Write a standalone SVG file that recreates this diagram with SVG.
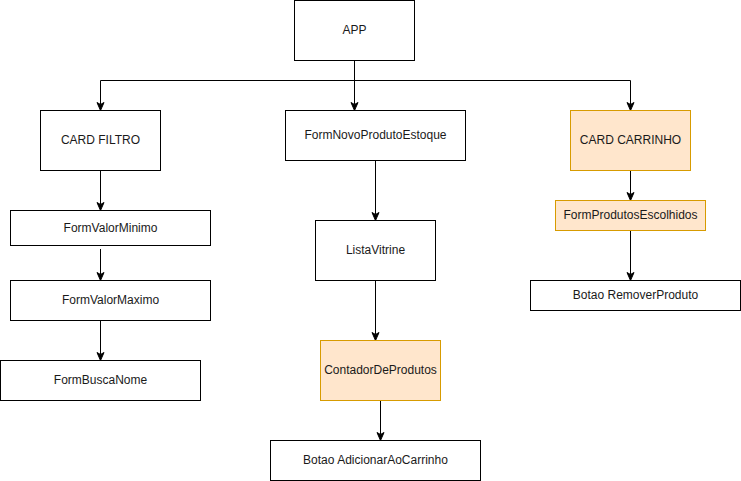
<svg xmlns="http://www.w3.org/2000/svg" width="741" height="481" viewBox="0 0 741 481">
<style>
.n rect{fill:#ffffff;stroke:#000000;stroke-width:1}
.o rect{fill:#ffe6cc;stroke:#d79b00;stroke-width:1}
text{font-family:"Liberation Sans",Arial,sans-serif;font-size:12px;fill:#1a1a1a;text-anchor:middle}
.e path{fill:none;stroke:#000000;stroke-width:1}
</style>
<defs>
<marker id="a" markerUnits="userSpaceOnUse" viewBox="-9 -5 10 10" refX="-6" refY="0" markerWidth="10" markerHeight="10" orient="auto">
<path d="M0,0 L-8,-3.5 L-6,0 L-8,3.5 Z" fill="#000000" stroke="#000000" stroke-width="1"/>
</marker>
</defs>
<rect width="741" height="481" fill="#ffffff"/>
<g class="e" id="connectors">
<path d="M354.5,60.5 V104.5" marker-end="url(#a)"/>
<path d="M100.5,80.5 H630.5" />
<path d="M100.5,80.5 V104.5" marker-end="url(#a)"/>
<path d="M630.5,80.5 V104.5" marker-end="url(#a)"/>
<path d="M100.5,170.5 V204.5" marker-end="url(#a)"/>
<path d="M100.5,249 V274.5" marker-end="url(#a)"/>
<path d="M100.5,319 V354.5" marker-end="url(#a)"/>
<path d="M375.5,160.5 V214.5" marker-end="url(#a)"/>
<path d="M375.5,280.5 V334.5" marker-end="url(#a)"/>
<path d="M380.5,400.5 V434.5" marker-end="url(#a)"/>
<path d="M630.5,170.5 V194.5" marker-end="url(#a)"/>
<path d="M630.5,230.5 V274.5" marker-end="url(#a)"/>
</g>
<g id="app" class="n"><rect x="294.5" y="0.5" width="120" height="60"/><text x="354.5" y="34">APP</text></g>
<g id="cardFiltro" class="n"><rect x="40.5" y="110.5" width="120" height="60"/><text x="100.5" y="144">CARD FILTRO</text></g>
<g id="formNovo" class="n"><rect x="285.5" y="110.5" width="180" height="50"/><text x="375.5" y="139">FormNovoProdutoEstoque</text></g>
<g id="cardCarrinho" class="o"><rect x="570.5" y="110.5" width="120" height="60"/><text x="630.5" y="144">CARD CARRINHO</text></g>
<g id="formValorMinimo" class="n"><rect x="10.5" y="210.5" width="200" height="35"/><text x="110.5" y="231.5">FormValorMinimo</text></g>
<g id="formValorMaximo" class="n"><rect x="10.5" y="280.5" width="200" height="40"/><text x="110.5" y="304">FormValorMaximo</text></g>
<g id="formBuscaNome" class="n"><rect x="0.5" y="360.5" width="200" height="40"/><text x="100.5" y="384">FormBuscaNome</text></g>
<g id="listaVitrine" class="n"><rect x="315.5" y="220.5" width="120" height="60"/><text x="375.5" y="254">ListaVitrine</text></g>
<g id="contador" class="o"><rect x="320.5" y="340.5" width="120" height="60"/><text x="380.5" y="374">ContadorDeProdutos</text></g>
<g id="botaoAdicionar" class="n"><rect x="270.5" y="440.5" width="210" height="40"/><text x="375.5" y="464">Botao AdicionarAoCarrinho</text></g>
<g id="formProdutosEscolhidos" class="o"><rect x="555.5" y="200.5" width="150" height="30"/><text x="630.5" y="219">FormProdutosEscolhidos</text></g>
<g id="botaoRemover" class="n"><rect x="530.5" y="280.5" width="210" height="30"/><text x="635.5" y="299">Botao RemoverProduto</text></g>
</svg>
